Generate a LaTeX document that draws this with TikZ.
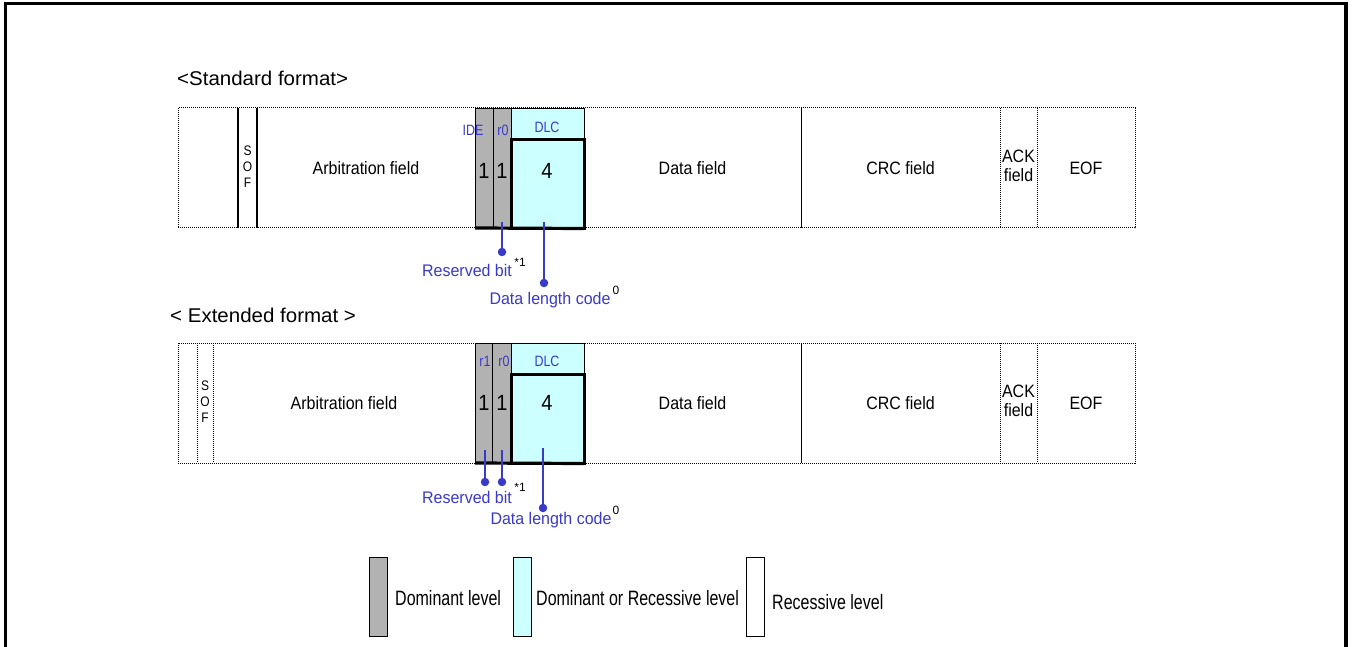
\documentclass[tikz,border=0pt]{standalone}
\usepackage{fontspec}
\setmainfont{Liberation Sans}
\definecolor{dom}{HTML}{B2B2B2}
\definecolor{dlr}{HTML}{CCFFFF}
\definecolor{lbl}{HTML}{3A3AC8}
\newcommand\vstretch[2]{\scalebox{1}[#1]{#2}}
\newcommand\stackit[1]{\begin{tabular}{@{}c@{}}#1\end{tabular}}
\begin{document}
\begin{tikzpicture}[x=1pt,y=-1pt,
  cell/.style={inner sep=0pt, outer sep=0pt, anchor=north west, minimum height=120pt, align=center, font=\fontsize{16}{17.5}\selectfont},
  sofcell/.style={cell, font=\fontsize{12}{14}\selectfont},
  bitcell/.style={cell, draw, line width=0.8pt, fill=dom},
  dlchead/.style={inner sep=0pt, outer sep=0pt, anchor=north west, minimum width=73pt, minimum height=30pt, draw, line width=0.8pt, fill=dlr},
  dlcbody/.style={inner sep=0pt, outer sep=0pt, anchor=north west, minimum width=73pt, minimum height=89pt, draw, line width=3pt, fill=dlr},
  dotsep/.style={densely dotted, line width=1pt},
  solsep/.style={line width=1pt},
  thickbar/.style={line width=3.2pt},
  blabel/.style={text=lbl, inner sep=0pt, font=\fontsize{12.5}{14}\selectfont},
  digit/.style={inner sep=0pt, font=\fontsize{20}{22}\selectfont},
  dotnode/.style={circle, fill=lbl, inner sep=0pt, minimum size=8.5pt},
  conn/.style={draw=lbl, line width=1.2pt},
  clabel/.style={text=lbl, inner sep=0pt, font=\fontsize{16}{18}\selectfont},
  note/.style={inner sep=0pt, font=\fontsize{12}{14}\selectfont},
  title/.style={anchor=west, inner sep=0pt, font=\fontsize{20.5}{22}\selectfont},
  legbox/.style={inner sep=0pt, outer sep=0pt, anchor=north west, minimum width=18pt, minimum height=79pt, draw, line width=1pt},
  legtext/.style={anchor=west, inner sep=0pt, font=\fontsize{16}{20}\selectfont}
]
\useasboundingbox (0,0) rectangle (1353,647);
\fill[white] (0,0) rectangle (1353,647);
% frame
\draw[line width=3.5pt] (5.5,660) -- (5.5,3.5) -- (1346,3.5) -- (1346,660);

% ===== Standard format =====
\node[title] (tstd) at (177,78) {\vstretch{0.97}{<Standard format>}};
\node[cell, minimum width=60pt] (s-pre) at (178,108) {};
\node[sofcell, minimum width=19pt] (s-sof) at (238,108) {\vstretch{1.15}{\stackit{S\\O\\F}}};
\node[cell, minimum width=218pt] (s-arb) at (257,108) {\vstretch{1.12}{Arbitration field}};
\node[cell, minimum width=217pt] (s-data) at (584,108) {\vstretch{1.12}{Data field}};
\node[cell, minimum width=199pt] (s-crc) at (801,108) {\vstretch{1.12}{CRC field}};
\node[cell, minimum width=37pt] (s-ack) at (1000,108) {\vstretch{1.12}{\stackit{ACK\\field}}};
\node[cell, minimum width=98pt] (s-eof) at (1037,108) {\vstretch{1.12}{EOF}};
\draw[dotsep] (s-pre.north west) rectangle (s-eof.south east);
\draw[solsep, line width=1.5pt] (s-sof.north west) -- (s-sof.south west);
\draw[solsep, line width=1.5pt] (s-sof.north east) -- (s-sof.south east);
\draw[solsep] (s-crc.north west) -- (s-crc.south west);
\draw[dotsep] (s-ack.north west) -- (s-ack.south west);
\draw[dotsep] (s-ack.north east) -- (s-ack.south east);
\node[bitcell, minimum width=18pt] (s-ide) at (475,108) {};
\node[bitcell, minimum width=18pt] (s-r0) at (493,108) {};
\node[dlchead] (s-dlch) at (511,108) {};
\node[dlcbody] (s-dlc) at (511,139.5) {};
\draw[thickbar] (s-ide.south west) -- (s-dlc.south east);
\node[blabel] (s-idel) at (473,130) {\vstretch{1.2}{IDE}};
\node[blabel] (s-r0l) at (503,130) {\vstretch{1.2}{r0}};
\node[blabel] (s-dlcl) at (547,127) {\vstretch{1.2}{DLC}};
\node[digit] (s-d1) at (484,171) {\vstretch{1.1}{1}};
\node[digit] (s-d2) at (502,171) {\vstretch{1.1}{1}};
\node[digit] (s-d4) at (547,171) {\vstretch{1.1}{4}};
% connectors
\node[dotnode] (s-rbdot) at (502,252) {};
\node[dotnode] (s-dldot) at (544,283) {};
\draw[conn] (s-rbdot.center) -- ([yshift=6pt]s-rbdot |- s-r0.south);
\draw[conn] (s-dldot.center) -- ([yshift=6pt]s-dldot |- s-dlc.south);
\node[clabel] (s-rbl) at (467,270) {\vstretch{1.05}{Reserved bit}};
\node[note] (s-rbn) at (520,262) {*1};
\node[clabel] (s-dll) at (550,300) {\vstretch{1.05}{Data length code}};
\node[note] (s-dln) at (616,290) {0};

% ===== Extended format =====
\node[title] (text) at (170,315) {\vstretch{0.97}{< Extended format >}};
\node[cell, minimum width=19pt] (e-pre) at (178,343) {};
\node[sofcell, minimum width=16pt] (e-sof) at (197,343) {\vstretch{1.15}{\stackit{S\\O\\F}}};
\node[cell, minimum width=262pt] (e-arb) at (213,343) {\vstretch{1.12}{Arbitration field}};
\node[cell, minimum width=217pt] (e-data) at (584,343) {\vstretch{1.12}{Data field}};
\node[cell, minimum width=199pt] (e-crc) at (801,343) {\vstretch{1.12}{CRC field}};
\node[cell, minimum width=37pt] (e-ack) at (1000,343) {\vstretch{1.12}{\stackit{ACK\\field}}};
\node[cell, minimum width=98pt] (e-eof) at (1037,343) {\vstretch{1.12}{EOF}};
\draw[dotsep] (e-pre.north west) rectangle (e-eof.south east);
\draw[dotsep] (e-sof.north west) -- (e-sof.south west);
\draw[dotsep] (e-sof.north east) -- (e-sof.south east);
\draw[solsep] (e-crc.north west) -- (e-crc.south west);
\draw[dotsep] (e-ack.north west) -- (e-ack.south west);
\draw[dotsep] (e-ack.north east) -- (e-ack.south east);
\node[bitcell, minimum width=17pt] (e-r1) at (475,343) {};
\node[bitcell, minimum width=19pt] (e-r0) at (492,343) {};
\node[dlchead] (e-dlch) at (511,343) {};
\node[dlcbody] (e-dlc) at (511,374.5) {};
\draw[thickbar] (e-r1.south west) -- (e-dlc.south east);
\node[blabel] (e-r1l) at (485,361) {\vstretch{1.2}{r1}};
\node[blabel] (e-r0l) at (504,361) {\vstretch{1.2}{r0}};
\node[blabel] (e-dlcl) at (547,361) {\vstretch{1.2}{DLC}};
\node[digit] (e-d1) at (484,403) {\vstretch{1.1}{1}};
\node[digit] (e-d2) at (502,403) {\vstretch{1.1}{1}};
\node[digit] (e-d4) at (547,403) {\vstretch{1.1}{4}};
% connectors
\node[dotnode] (e-rb1dot) at (485,482) {};
\node[dotnode] (e-rb0dot) at (502,482) {};
\node[dotnode] (e-dldot) at (543,508) {};
\draw[conn] (e-rb1dot.center) -- ([yshift=13pt]e-rb1dot |- e-r1.south);
\draw[conn] (e-rb0dot.center) -- ([yshift=13pt]e-rb0dot |- e-r0.south);
\draw[conn] (e-dldot.center) -- ([yshift=16pt]e-dldot |- e-dlc.south);
\node[clabel] (e-rbl) at (467,497) {\vstretch{1.05}{Reserved bit}};
\node[note] (e-rbn) at (520,487) {*1};
\node[clabel] (e-dll) at (551,520) {\vstretch{1.05}{Data length code}};
\node[note] (e-dln) at (616,510) {0};

% ===== Legend =====
\node[legbox, fill=dom] (l-dom) at (369,557) {};
\node[legtext] (l-domt) at (395,598) {\vstretch{1.3}{Dominant level}};
\node[legbox, fill=dlr] (l-dlr) at (513,557) {};
\node[legtext] (l-dlrt) at (536,598) {\vstretch{1.3}{Dominant or Recessive level}};
\node[legbox, fill=white] (l-rec) at (746,557) {};
\node[legtext] (l-rect) at (772,602) {\vstretch{1.3}{Recessive level}};
\end{tikzpicture}
\end{document}
